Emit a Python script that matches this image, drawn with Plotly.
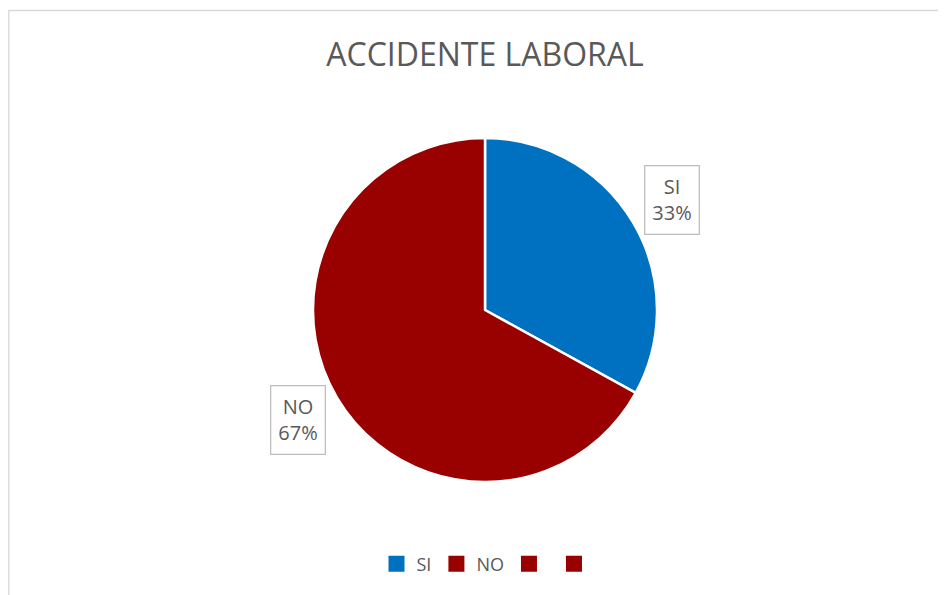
import math
import plotly.graph_objects as go

# data
labels = ["SI", "NO"]
values = [33, 67]
pct_text = ["33%", "67%"]
slice_colors = ["#0070C0", "#990000"]
legend_names = ["SI", "NO", "", ""]
legend_colors = ["#0070C0", "#990000", "#990000", "#990000"]

# page body adds an 8px offset, so work in figure px
W, H = 938, 587
cx, cy, r = 477, 302, 172  # pie center / radius in px

fig = go.Figure()
fig.add_trace(go.Pie(
    labels=labels, values=values, sort=False, direction="clockwise", rotation=0,
    marker=dict(colors=slice_colors, line=dict(color="white", width=2.5)),
    textinfo="none", hoverinfo="label+percent", showlegend=False,
    domain=dict(x=[(cx - r) / W, (cx + r) / W], y=[(H - cy - r) / H, (H - cy + r) / H]),
))

# legend-only entries (square symbols)
for name, col in zip(legend_names, legend_colors):
    fig.add_trace(go.Scatter(x=[None], y=[None], mode="markers", name=name,
                             marker=dict(symbol="square", size=16, color=col),
                             showlegend=True, hoverinfo="skip"))

# callout labels placed at each slice's mid-angle
total = sum(values)
cum = 0
for lab, v, t in zip(labels, values, pct_text):
    mid = (cum + v / 2) / total
    cum += v
    ang = math.radians(90 - mid * 360)
    k = 1.26
    px_ = cx + k * r * math.cos(ang)
    py_ = cy - k * r * math.sin(ang)
    fig.add_annotation(
        x=px_ / W, y=1 - py_ / H, xref="paper", yref="paper",
        xanchor="center", yanchor="middle",
        text=f"{lab}<br>{t}", showarrow=False, align="center",
        font=dict(family="Open Sans", size=20, color="#595959"),
        bordercolor="#BFBFBF", borderwidth=1.3, borderpad=7, bgcolor="white",
    )

# chart frame
fig.add_shape(type="rect", xref="paper", yref="paper",
              x0=0.8 / W, x1=1.05, y0=-0.05, y1=1 - 2.5 / H,
              line=dict(color="#D9D9D9", width=1.3))

fig.update_layout(
    width=W, height=H,
    margin=dict(l=0, r=0, t=0, b=0),
    paper_bgcolor="white", plot_bgcolor="white",
    xaxis=dict(visible=False), yaxis=dict(visible=False),
    title=dict(text="ACCIDENTE LABORAL", x=cx / W, xanchor="center", y=1 - 47 / H, yanchor="middle",
               font=dict(family="Open Sans", size=32, color="#595959")),
    legend=dict(orientation="h", x=(cx + 3) / W, xanchor="center", y=1 - 556 / H, yanchor="middle",
                font=dict(family="Open Sans", size=18, color="#595959"), itemwidth=30,
                traceorder="normal"),
)

fig.write_html("out.html")
